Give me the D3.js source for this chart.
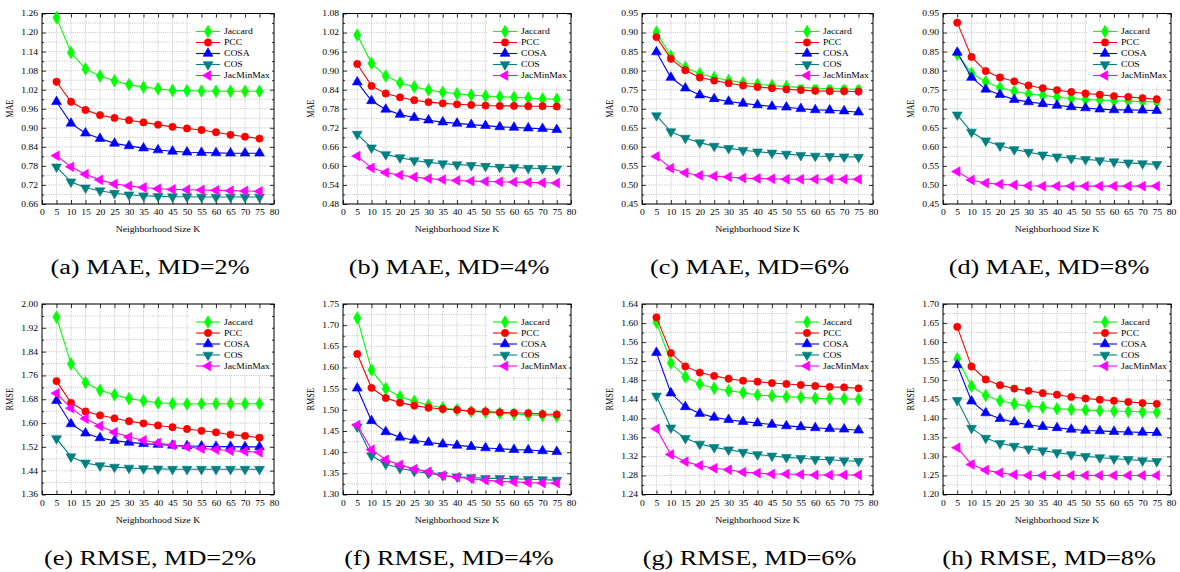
<!DOCTYPE html>
<html>
<head>
<meta charset="utf-8">
<script src="https://cdn.jsdelivr.net/npm/d3@7"></script>
<style>
  body { margin: 0; background: #fff; }
  svg text { font-family: "Liberation Serif", "Times New Roman", serif; }
</style>
</head>
<body>
<div id="chart"></div>
<script>
  // neighbourhood sizes on the x axis
  var ks = [5, 10, 15, 20, 25, 30, 35, 40, 45, 50, 55, 60, 65, 70, 75];
  var xTicks = [0, 5, 10, 15, 20, 25, 30, 35, 40, 45, 50, 55, 60, 65, 70, 75, 80];

  var seriesNames = ["Jaccard", "PCC", "COSA", "COS", "JacMinMax"];
  var seriesColors = ["#00ff00", "#ff0000", "#0000ff", "#008080", "#ff00ff"];

  // each panel: Jaccard, PCC, COSA, COS, JacMinMax
  var maeMD2 = [
    [1.247, 1.137, 1.085, 1.063, 1.048, 1.036, 1.028, 1.023, 1.018, 1.017, 1.016, 1.015, 1.015, 1.015, 1.015],
    [1.045, 0.982, 0.956, 0.940, 0.931, 0.924, 0.917, 0.910, 0.903, 0.898, 0.893, 0.886, 0.878, 0.872, 0.866],
    [0.982, 0.914, 0.883, 0.866, 0.851, 0.843, 0.836, 0.830, 0.826, 0.823, 0.822, 0.821, 0.820, 0.820, 0.820],
    [0.777, 0.730, 0.711, 0.702, 0.694, 0.689, 0.686, 0.684, 0.683, 0.683, 0.682, 0.682, 0.682, 0.682, 0.682],
    [0.812, 0.777, 0.754, 0.736, 0.723, 0.717, 0.712, 0.708, 0.706, 0.705, 0.704, 0.703, 0.702, 0.701, 0.700]
  ];
  var maeMD4 = [
    [1.012, 0.923, 0.883, 0.862, 0.849, 0.839, 0.832, 0.827, 0.823, 0.820, 0.818, 0.816, 0.814, 0.811, 0.810],
    [0.921, 0.852, 0.828, 0.816, 0.807, 0.801, 0.797, 0.794, 0.792, 0.790, 0.789, 0.789, 0.788, 0.788, 0.787],
    [0.864, 0.805, 0.778, 0.762, 0.752, 0.744, 0.738, 0.734, 0.730, 0.727, 0.723, 0.721, 0.719, 0.717, 0.714],
    [0.700, 0.657, 0.636, 0.626, 0.617, 0.611, 0.607, 0.604, 0.602, 0.599, 0.596, 0.595, 0.593, 0.592, 0.591],
    [0.631, 0.594, 0.579, 0.571, 0.565, 0.560, 0.557, 0.554, 0.552, 0.551, 0.550, 0.549, 0.548, 0.547, 0.546]
  ];
  var maeMD6 = [
    [0.901, 0.838, 0.808, 0.792, 0.782, 0.774, 0.768, 0.764, 0.761, 0.758, 0.756, 0.754, 0.753, 0.752, 0.751],
    [0.888, 0.831, 0.801, 0.782, 0.774, 0.767, 0.761, 0.757, 0.754, 0.751, 0.749, 0.747, 0.746, 0.746, 0.745],
    [0.849, 0.782, 0.754, 0.736, 0.726, 0.719, 0.714, 0.710, 0.706, 0.704, 0.700, 0.697, 0.696, 0.694, 0.691],
    [0.682, 0.640, 0.623, 0.611, 0.602, 0.596, 0.591, 0.587, 0.584, 0.581, 0.578, 0.576, 0.575, 0.574, 0.573],
    [0.575, 0.544, 0.532, 0.525, 0.523, 0.521, 0.518, 0.517, 0.516, 0.515, 0.515, 0.515, 0.515, 0.515, 0.515]
  ];
  var maeMD8 = [
    [0.843, 0.793, 0.771, 0.755, 0.746, 0.739, 0.735, 0.731, 0.727, 0.724, 0.723, 0.721, 0.720, 0.719, 0.718],
    [0.926, 0.836, 0.799, 0.782, 0.772, 0.761, 0.754, 0.749, 0.744, 0.740, 0.737, 0.733, 0.731, 0.728, 0.725],
    [0.848, 0.782, 0.751, 0.737, 0.724, 0.718, 0.713, 0.709, 0.705, 0.702, 0.699, 0.697, 0.697, 0.696, 0.695],
    [0.684, 0.639, 0.616, 0.603, 0.593, 0.586, 0.579, 0.574, 0.570, 0.567, 0.564, 0.561, 0.558, 0.556, 0.554],
    [0.535, 0.513, 0.505, 0.502, 0.500, 0.498, 0.497, 0.497, 0.497, 0.497, 0.497, 0.497, 0.497, 0.497, 0.497]
  ];
  var rmseMD2 = [
    [1.956, 1.799, 1.736, 1.710, 1.695, 1.682, 1.675, 1.668, 1.665, 1.664, 1.665, 1.665, 1.665, 1.665, 1.665],
    [1.741, 1.668, 1.639, 1.626, 1.616, 1.606, 1.599, 1.592, 1.586, 1.580, 1.574, 1.569, 1.561, 1.557, 1.551],
    [1.675, 1.597, 1.566, 1.550, 1.541, 1.535, 1.531, 1.528, 1.525, 1.523, 1.522, 1.521, 1.521, 1.520, 1.520],
    [1.548, 1.487, 1.466, 1.457, 1.452, 1.449, 1.447, 1.446, 1.445, 1.445, 1.445, 1.445, 1.445, 1.445, 1.445],
    [1.700, 1.650, 1.615, 1.590, 1.569, 1.553, 1.542, 1.533, 1.526, 1.520, 1.514, 1.511, 1.507, 1.505, 1.502]
  ];
  var rmseMD4 = [
    [1.717, 1.594, 1.550, 1.531, 1.520, 1.511, 1.505, 1.500, 1.496, 1.494, 1.492, 1.490, 1.488, 1.487, 1.485],
    [1.632, 1.552, 1.528, 1.517, 1.510, 1.505, 1.502, 1.500, 1.497, 1.496, 1.494, 1.493, 1.492, 1.490, 1.489],
    [1.551, 1.474, 1.448, 1.435, 1.428, 1.423, 1.419, 1.416, 1.413, 1.410, 1.408, 1.406, 1.405, 1.403, 1.401],
    [1.460, 1.392, 1.372, 1.362, 1.355, 1.350, 1.345, 1.342, 1.340, 1.338, 1.338, 1.337, 1.336, 1.335, 1.334],
    [1.464, 1.406, 1.382, 1.370, 1.360, 1.354, 1.345, 1.341, 1.337, 1.334, 1.331, 1.330, 1.328, 1.327, 1.327]
  ];
  var rmseMD6 = [
    [1.602, 1.516, 1.487, 1.472, 1.463, 1.458, 1.454, 1.449, 1.447, 1.445, 1.444, 1.442, 1.441, 1.441, 1.440],
    [1.612, 1.537, 1.509, 1.496, 1.489, 1.483, 1.479, 1.477, 1.474, 1.472, 1.470, 1.468, 1.466, 1.465, 1.463],
    [1.538, 1.453, 1.424, 1.410, 1.402, 1.397, 1.393, 1.390, 1.387, 1.384, 1.382, 1.380, 1.378, 1.377, 1.375],
    [1.447, 1.380, 1.358, 1.346, 1.339, 1.334, 1.329, 1.324, 1.321, 1.318, 1.316, 1.314, 1.313, 1.311, 1.310],
    [1.378, 1.324, 1.309, 1.301, 1.295, 1.292, 1.287, 1.285, 1.283, 1.283, 1.282, 1.281, 1.281, 1.281, 1.281]
  ];
  var rmseMD8 = [
    [1.556, 1.484, 1.460, 1.446, 1.438, 1.432, 1.429, 1.425, 1.423, 1.422, 1.420, 1.419, 1.418, 1.417, 1.416],
    [1.640, 1.536, 1.502, 1.487, 1.478, 1.472, 1.466, 1.462, 1.456, 1.452, 1.449, 1.446, 1.443, 1.440, 1.438],
    [1.540, 1.445, 1.414, 1.399, 1.390, 1.383, 1.378, 1.375, 1.371, 1.368, 1.367, 1.365, 1.364, 1.363, 1.362],
    [1.447, 1.374, 1.348, 1.334, 1.327, 1.320, 1.315, 1.310, 1.305, 1.300, 1.297, 1.294, 1.292, 1.289, 1.287],
    [1.323, 1.279, 1.264, 1.257, 1.252, 1.250, 1.250, 1.250, 1.250, 1.250, 1.250, 1.250, 1.250, 1.250, 1.250]
  ];

  var panelData = [maeMD2, maeMD4, maeMD6, maeMD8, rmseMD2, rmseMD4, rmseMD6, rmseMD8];
  var panelCaptions = ["(a) MAE, MD=2%", "(b) MAE, MD=4%", "(c) MAE, MD=6%", "(d) MAE, MD=8%",
                       "(e) RMSE, MD=2%", "(f) RMSE, MD=4%", "(g) RMSE, MD=6%", "(h) RMSE, MD=8%"];
  var panelMetric = ["MAE", "MAE", "MAE", "MAE", "RMSE", "RMSE", "RMSE", "RMSE"];
  var yMin = [0.66, 0.48, 0.45, 0.45, 1.36, 1.30, 1.24, 1.20];
  var yMax = [1.26, 1.08, 0.95, 0.95, 2.00, 1.75, 1.64, 1.70];
  var yStep = [0.06, 0.06, 0.05, 0.05, 0.08, 0.05, 0.04, 0.05];

  // page layout
  var svgWidth = 1180;
  var svgHeight = 572;
  var colLeft = [42, 343, 642, 943];
  var colWidth = [232, 228, 231, 228];
  var rowTop = [13.5, 304];
  var plotH = 190.5;
  var FONT = "'Liberation Serif', 'Times New Roman', serif";
  var SX = 1.28; // the original figure is stretched sideways, text included

  var svg = d3.select("#chart")
    .append("svg")
    .attr("width", svgWidth)
    .attr("height", svgHeight)
    .attr("font-family", FONT);

  var symbols = [
    d3.symbol().type(d3.symbolDiamond).size(46),
    d3.symbol().type(d3.symbolCircle).size(42),
    d3.symbol().type(d3.symbolTriangle).size(42),
    d3.symbol().type(d3.symbolTriangle).size(42),
    d3.symbol().type(d3.symbolTriangle).size(42)
  ];
  var symbolRotate = [0, 0, 0, 180, -90];

  function fmt(v) { return d3.format(".2f")(v); }

  // text placed at (x, y) and widened like the source image
  function addText(parent, x, y, size, str, anchor, rot) {
    return parent.append("text")
      .attr("transform", `translate(${x}, ${y}) scale(${SX}, 1)` + (rot ? ` rotate(${rot})` : ""))
      .attr("text-anchor", anchor || "start")
      .attr("font-family", FONT)
      .attr("font-size", size)
      .attr("fill", "#000")
      .text(str);
  }

  panelData.forEach(function(series, p) {
    var col = p % 4;
    var row = Math.floor(p / 4);
    var w = colWidth[col];
    var h = plotH;

    var g = svg.append("g")
      .attr("transform", `translate(${colLeft[col]}, ${rowTop[row]})`);

    var x = d3.scaleLinear().domain([0, 80]).range([0, w]);
    var y = d3.scaleLinear().domain([yMin[p], yMax[p]]).range([h, 0]);

    var nTicks = Math.round((yMax[p] - yMin[p]) / yStep[p]);
    var yTicks = d3.range(nTicks + 1).map(i => yMin[p] + i * yStep[p]);
    var yMinor = d3.range(nTicks).map(i => yMin[p] + (i + 0.5) * yStep[p]);

    // dotted grid
    g.append("g").selectAll("line")
      .data(yTicks.concat(yMinor))
      .enter().append("line")
      .attr("x1", 0).attr("x2", w)
      .attr("y1", d => y(d)).attr("y2", d => y(d))
      .attr("stroke", "#b5b5b5")
      .attr("stroke-width", 0.8)
      .attr("stroke-dasharray", "1,1.2");

    g.append("g").selectAll("line")
      .data(xTicks.slice(1, -1))
      .enter().append("line")
      .attr("x1", d => x(d)).attr("x2", d => x(d))
      .attr("y1", 0).attr("y2", h)
      .attr("stroke", "#b5b5b5")
      .attr("stroke-width", 0.8)
      .attr("stroke-dasharray", "1,1.2");

    // axes with inward ticks on all sides
    var axisB = d3.axisBottom(x).tickValues(xTicks).tickSizeInner(-4).tickSizeOuter(0).tickPadding(6);
    var axisT = d3.axisTop(x).tickValues(xTicks).tickSizeInner(-4).tickSizeOuter(0).tickFormat("");
    var axisL = d3.axisLeft(y).tickValues(yTicks).tickSizeInner(-4).tickSizeOuter(0).tickPadding(3).tickFormat(fmt);
    var axisR = d3.axisRight(y).tickValues(yTicks).tickSizeInner(-4).tickSizeOuter(0).tickFormat("");
    var minorL = d3.axisLeft(y).tickValues(yMinor).tickSizeInner(-2).tickSizeOuter(0).tickFormat("");
    var minorR = d3.axisRight(y).tickValues(yMinor).tickSizeInner(-2).tickSizeOuter(0).tickFormat("");

    [
      [axisB, `translate(0, ${h})`],
      [axisT, "translate(0, 0)"],
      [axisL, "translate(0, 0)"],
      [axisR, `translate(${w}, 0)`],
      [minorL, "translate(0, 0)"],
      [minorR, `translate(${w}, 0)`]
    ].forEach(function(a) {
      var ag = g.append("g").attr("transform", a[1]).call(a[0]);
      ag.attr("font-family", FONT);
      ag.select(".domain").remove();
      ag.selectAll("line").attr("stroke", "#000").attr("stroke-width", 0.8);
      ag.selectAll("text")
        .attr("font-family", FONT)
        .attr("font-size", 7.5)
        .attr("fill", "#000")
        .attr("transform", `scale(${SX}, 1)`);
    });

    g.append("rect")
      .attr("width", w).attr("height", h)
      .attr("fill", "none")
      .attr("stroke", "#000")
      .attr("stroke-width", 1);

    // series lines and markers
    var line = d3.line()
      .x((d, i) => x(ks[i]))
      .y(d => y(d));

    series.forEach(function(vals, s) {
      g.append("path")
        .datum(vals)
        .attr("d", line)
        .attr("fill", "none")
        .attr("stroke", seriesColors[s])
        .attr("stroke-width", 1.1);

      g.append("g").selectAll("path")
        .data(vals)
        .enter().append("path")
        .attr("d", symbols[s])
        .attr("transform", (d, i) => `translate(${x(ks[i])}, ${y(d)}) rotate(${symbolRotate[s]})`)
        .attr("fill", seriesColors[s])
        .attr("stroke", seriesColors[s])
        .attr("stroke-width", 0.6);
    });

    // legend
    var lg = g.append("g").attr("transform", `translate(${w - 84}, 8)`);
    lg.append("rect")
      .attr("width", 82).attr("height", 63)
      .attr("fill", "#fff");
    seriesNames.forEach(function(name, s) {
      var ly = 10 + s * 11;
      lg.append("line")
        .attr("x1", 6).attr("x2", 30)
        .attr("y1", ly).attr("y2", ly)
        .attr("stroke", seriesColors[s])
        .attr("stroke-width", 1.1);
      lg.append("path")
        .attr("d", symbols[s])
        .attr("transform", `translate(18, ${ly}) rotate(${symbolRotate[s]})`)
        .attr("fill", seriesColors[s])
        .attr("stroke", seriesColors[s])
        .attr("stroke-width", 0.6);
      addText(lg, 34, ly + 2.7, 7.5, name);
    });

    // axis titles
    addText(g, -29, h / 2, 8.2, panelMetric[p], "middle", -90);
    addText(g, w / 2, h + 28, 7.6, "Neighborhood Size K", "middle");

    // sub-figure caption
    addText(g, w / 2 - 8, h + 70, 20.5, panelCaptions[p], "middle");
  });
</script>
</body>
</html>
